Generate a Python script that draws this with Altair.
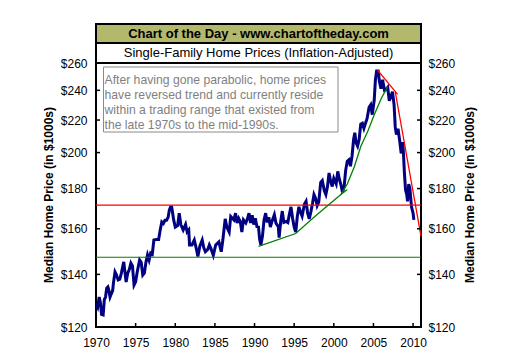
import altair as alt
import pandas as pd

# ---- data ----
years = [1970.0, 1970.2, 1970.4, 1970.55, 1970.7, 1970.9, 1971.05, 1971.2, 1971.35, 1971.5,
         1971.6, 1971.77, 1971.9, 1972.1, 1972.2, 1972.4, 1972.55, 1972.8, 1973.0, 1973.2,
         1973.5, 1973.65, 1973.8, 1974.0, 1974.2, 1974.4, 1974.6, 1974.8, 1975.0, 1975.2,
         1975.5, 1975.7, 1975.9, 1976.1, 1976.3, 1976.5, 1976.7, 1976.9, 1977.1, 1977.3,
         1977.6, 1977.9, 1978.1, 1978.3, 1978.5, 1978.7, 1978.9, 1979.1, 1979.25, 1979.4,
         1979.55, 1979.8, 1980.0, 1980.3, 1980.5, 1980.7, 1981.0, 1981.3, 1981.5, 1981.7,
         1981.8, 1982.1, 1982.4, 1982.7, 1982.85, 1983.1, 1983.4, 1983.6, 1983.8, 1984.1,
         1984.3, 1984.5, 1984.8, 1985.1, 1985.5, 1985.8, 1986.0, 1986.3, 1986.5, 1986.8,
         1987.0, 1987.4, 1987.6, 1987.8, 1988.0, 1988.2, 1988.4, 1988.6, 1988.9, 1989.1,
         1989.3, 1989.5, 1989.7, 1989.9, 1990.1, 1990.3, 1990.5, 1990.65, 1990.8, 1991.0,
         1991.2, 1991.4, 1991.6, 1991.8, 1992.0, 1992.2, 1992.5, 1992.7, 1993.0, 1993.1,
         1993.3, 1993.5, 1993.7, 1994.0, 1994.2, 1994.4, 1994.6, 1994.8, 1995.0, 1995.2,
         1995.4, 1995.6, 1995.8, 1996.0, 1996.3, 1996.5, 1996.7, 1996.9, 1997.1, 1997.3,
         1997.5, 1997.7, 1997.9, 1998.1, 1998.35, 1998.55, 1998.8, 1999.0, 1999.2, 1999.4,
         1999.6, 1999.8, 2000.0, 2000.3, 2000.5, 2000.7, 2000.9, 2001.1, 2001.3, 2001.5,
         2001.7, 2001.9, 2002.1, 2002.3, 2002.5, 2002.65, 2002.8, 2003.0, 2003.2, 2003.4,
         2003.6, 2003.8, 2004.0, 2004.2, 2004.45, 2004.65, 2004.85, 2005.1, 2005.25, 2005.4,
         2005.6, 2005.75, 2005.95, 2006.15, 2006.4, 2006.6, 2006.8, 2007.0, 2007.2, 2007.4,
         2007.6, 2007.75, 2007.9, 2008.1, 2008.3, 2008.5, 2008.7, 2008.8, 2008.9, 2009.05,
         2009.2, 2009.3, 2009.45, 2009.6, 2009.8, 2010.0, 2010.1]
prices = [128.0, 127.0, 131.0, 129.0, 124.5, 124.3, 130.0, 131.0, 134.5, 135.0,
          134.0, 131.0, 132.0, 133.5, 136.5, 141.0, 140.0, 137.7, 138.0, 140.5,
          145.2, 141.0, 136.9, 140.5, 142.0, 144.7, 143.5, 135.7, 137.0, 141.0,
          146.0, 145.0, 139.7, 140.5, 145.0, 148.2, 146.0, 149.0, 148.5, 154.8,
          155.0, 155.0, 159.4, 163.2, 162.5, 164.0, 164.0, 165.5, 169.0, 170.5,
          170.5, 164.2, 160.8, 161.5, 167.5, 162.0, 159.4, 162.0, 158.5, 159.4,
          152.6, 152.6, 154.8, 150.3, 147.5, 152.0, 154.8, 151.3, 149.6, 150.6,
          152.6, 151.0, 148.0, 152.6, 154.0, 149.6, 154.8, 164.7, 160.8, 158.5,
          165.9, 164.2, 167.5, 162.7, 165.0, 163.5, 158.5, 164.2, 162.7, 164.7,
          167.5, 162.7, 166.5, 162.0, 165.0, 161.0, 160.8, 155.0, 152.6, 156.6,
          164.2, 167.5, 163.0, 165.5, 160.8, 163.5, 166.7, 162.7, 161.0, 155.9,
          163.4, 168.5, 163.0, 163.5, 163.0, 167.0, 170.6, 165.0, 160.8, 158.5,
          166.0, 170.6, 168.0, 166.0, 172.0, 173.4, 167.5, 164.7, 168.0, 172.0,
          176.9, 175.0, 171.2, 173.0, 183.3, 184.3, 179.0, 176.9, 181.0, 188.4,
          184.0, 181.1, 185.5, 182.5, 189.3, 185.0, 182.0, 178.0, 181.0, 190.0,
          195.0, 195.8, 192.2, 198.0, 208.0, 212.0, 206.0, 203.9, 208.0, 217.4,
          218.0, 214.7, 218.0, 221.0, 228.4, 230.0, 223.5, 233.3, 247.7, 254.0,
          254.0, 246.5, 241.2, 247.5, 240.0, 240.5, 242.0, 232.8, 235.6, 239.0,
          230.4, 215.6, 210.8, 214.5, 207.5, 199.5, 206.3, 198.5, 189.0, 179.3,
          177.0, 173.4, 182.4, 180.0, 170.6, 167.5, 164.2]

up_trend_years = [1990.5, 1995.2, 1997.1, 1999.2, 2000.9, 2001.7,
                  2000.9, 2001.7, 2002.6, 2003.4, 2004.3, 2005.1, 2006.0, 2006.8]
up_trend_values = [152.0, 157.8, 164.2, 171.2, 176.9, 179.5,
                   177.0, 182.4, 192.0, 203.6, 213.0, 223.4, 234.5, 242.6]
up_trend_seg = [1, 1, 1, 1, 1, 1, 2, 2, 2, 2, 2, 2, 2, 2]

down_trend_years = [2005.5, 2008.05, 2007.75, 2011.0]
down_trend_values = [254.7, 237.2, 239.0, 156.6]
down_trend_seg = [1, 1, 2, 2]

range_levels = [171.5, 147.2]
range_colors = ["#ff0000", "#008000"]

y_ticks = [120, 140, 160, 180, 200, 220, 240, 260]
x_ticks = [1970, 1975, 1980, 1985, 1990, 1995, 2000, 2005, 2010]

title_text = "Chart of the Day - www.chartoftheday.com"
subtitle_text = "Single-Family Home Prices (Inflation-Adjusted)"
note_lines = ["After having gone parabolic, home prices",
              "have reversed trend and currently reside",
              "within a trading range that existed from",
              "the late 1970s to the mid-1990s."]
axis_title = "Median Home Price (in $1000s)"

# ---- chart ----
W, H = 325, 264
FONT = "Liberation Sans"

xs = alt.Scale(domain=[1970, 2011], nice=False, zero=False)
ys = alt.Scale(type="log", domain=[120, 260], nice=False, zero=False)

x_axis = alt.Axis(values=x_ticks, format="d", ticks=False, domain=False, grid=False,
                  labelFlush=False, labelPadding=10, labelFont=FONT, labelFontSize=12,
                  labelColor="black", title=None)
left_axis = alt.Axis(values=y_ticks, format="$.0f", ticks=False, domain=False, grid=False,
                     labelPadding=9, labelFont=FONT, labelFontSize=12, labelColor="black",
                     title=None, orient="left")
right_axis = alt.Axis(values=y_ticks, format="$.0f", ticks=False, domain=False, grid=False,
                      labelPadding=7, labelFont=FONT, labelFontSize=12, labelColor="black",
                      title=None, orient="right")

price_df = pd.DataFrame({"year": years, "price": prices})
up_df = pd.DataFrame({"year": up_trend_years, "price": up_trend_values, "seg": up_trend_seg})
down_df = pd.DataFrame({"year": down_trend_years, "price": down_trend_values, "seg": down_trend_seg})
range_df = pd.DataFrame({"price": range_levels, "color": range_colors})
ytick_df = pd.DataFrame({"price": y_ticks})
xtick_df = pd.DataFrame({"year": x_ticks})
one = pd.DataFrame({"a": [0]})

X = alt.X("year:Q", scale=xs, axis=x_axis)
YL = alt.Y("price:Q", scale=ys, axis=left_axis)
YR = alt.Y("price:Q", scale=ys, axis=right_axis)

title_box = alt.Chart(one).mark_rect(fill="#b4b86c", stroke="black", strokeWidth=2).encode(
    x=alt.value(0), x2=alt.value(W), y=alt.value(-39), y2=alt.value(-20))
sub_box = alt.Chart(one).mark_rect(fill="white", stroke="black", strokeWidth=2).encode(
    x=alt.value(0), x2=alt.value(W), y=alt.value(-20), y2=alt.value(0))
title_t = alt.Chart(one).mark_text(font=FONT, fontSize=13, fontWeight="bold", color="black",
                                   align="center", baseline="middle").encode(
    x=alt.value(W / 2), y=alt.value(-29.3), text=alt.value(title_text))
sub_t = alt.Chart(one).mark_text(font=FONT, fontSize=13, color="black",
                                 align="center", baseline="middle").encode(
    x=alt.value(W / 2), y=alt.value(-9.8), text=alt.value(subtitle_text))

note_box = alt.Chart(one).mark_rect(fill="white", stroke="#8a8a8a", strokeWidth=1).encode(
    x=alt.value(7.5), x2=alt.value(242), y=alt.value(4), y2=alt.value(69))
note_t = alt.Chart(one).mark_text(font=FONT, fontSize=12.2, color="#7f7f7f", align="left",
                                  baseline="alphabetic", lineHeight=15.2).encode(
    x=alt.value(8.5), y=alt.value(20.5), text=alt.value(note_lines))

left_title = alt.Chart(one).mark_text(font=FONT, fontSize=12, fontWeight="bold", color="black",
                                      align="center", baseline="middle", angle=270).encode(
    x=alt.value(-47), y=alt.value(H / 2), text=alt.value(axis_title))
right_title = alt.Chart(one).mark_text(font=FONT, fontSize=12, fontWeight="bold", color="black",
                                       align="center", baseline="middle", angle=270).encode(
    x=alt.value(374), y=alt.value(H / 2), text=alt.value(axis_title))

blue = alt.Chart(price_df).mark_line(color="#000080", strokeWidth=3).encode(x=X, y=YL)
ranges = alt.Chart(range_df).mark_rule(strokeWidth=1.2).encode(
    y=YL, color=alt.Color("color:N", scale=None))
up = alt.Chart(up_df).mark_line(color="#008000", strokeWidth=1.3).encode(
    x=X, y=YL, detail="seg:N")
down = alt.Chart(down_df).mark_line(color="#ff0000", strokeWidth=1.3).encode(
    x=X, y=YL, detail="seg:N")
lticks = alt.Chart(ytick_df).mark_rule(color="black", strokeWidth=1.5).encode(
    y=YL, x=alt.value(0), x2=alt.value(4))
xticks = alt.Chart(xtick_df).mark_rule(color="black", strokeWidth=1.5).encode(
    x=X, y=alt.value(H), y2=alt.value(H - 4))

left_layer = alt.layer(title_box, sub_box, title_t, sub_t, note_box, note_t,
                       left_title, right_title, blue, ranges, up, down, lticks, xticks)

rticks = alt.Chart(ytick_df).mark_rule(color="black", strokeWidth=1.5).encode(
    y=YR, x=alt.value(W - 4), x2=alt.value(W))

chart = alt.layer(left_layer, rticks).resolve_scale(y="independent").properties(
    width=W, height=H,
    autosize=alt.AutoSizeParams(type="none"),
    padding={"left": 96, "top": 63, "right": 88, "bottom": 29},
    background="white",
).configure_view(stroke="black", strokeWidth=2)

chart.save("out.html", embed_options={"renderer": "svg", "actions": False})
